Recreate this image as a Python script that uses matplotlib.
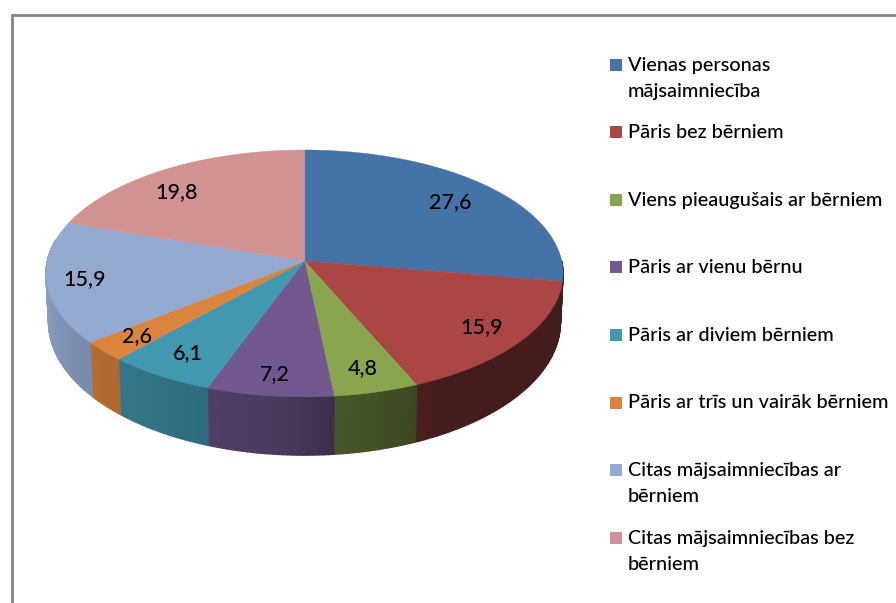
import numpy as np
import matplotlib
matplotlib.use("Agg")
import matplotlib.pyplot as plt
from matplotlib.collections import PolyCollection
from matplotlib.patches import Rectangle

# ---- data -----------------------------------------------------------
categories = [
    "Vienas personas\nmājsaimniecība",
    "Pāris bez bērniem",
    "Viens pieaugušais ar bērniem",
    "Pāris ar vienu bērnu",
    "Pāris ar diviem bērniem",
    "Pāris ar trīs un vairāk bērniem",
    "Citas mājsaimniecības ar\nbērniem",
    "Citas mājsaimniecības bez\nbērniem",
]
values = [27.6, 15.9, 4.8, 7.2, 6.1, 2.6, 15.9, 19.8]
value_labels = ["27,6", "15,9", "4,8", "7,2", "6,1", "2,6", "15,9", "19,8"]

# ---- style ----------------------------------------------------------
colors = ["#4572A7", "#AA4643", "#89A54E", "#71588F",
          "#4198AF", "#DB843D", "#93A9CF", "#D19392"]
label_radius = [0.78, 0.83, 0.83, 0.85, 0.82, 0.845, 0.855, 0.795]
label_turn_deg = [0, 0, 0, 0, 0, 0, 0, -6]
FONT = "Lato"
LEGEND_SIZE = 14.3
LABEL_SIZE = 15.5

# perspective of the pie disc, in pixels
CX, CY = 304.5, 261.0
A, B, S = 257.2, 122.2, 0.101
A_BOTTOM, B_BOTTOM, DEPTH = 0.99 * A, 1.078 * B, 47.6


def top(theta, r=1.0):
    u, v = r * np.sin(theta), r * np.cos(theta)
    d = 1 + S * v
    return CX + A * u / d, CY - B * v / d


def bottom(theta):
    u, v = np.sin(theta), np.cos(theta)
    d = 1 + S * v
    return CX + A_BOTTOM * u / d, CY + DEPTH - B_BOTTOM * v / d


fig = plt.figure(figsize=(8.96, 6.03), dpi=100, facecolor="white")
ax = fig.add_axes([0, 0, 1, 1])
ax.set_xlim(0, 896)
ax.set_ylim(603, 0)
ax.axis("off")

# chart frame (cropped: only the left and top edges are visible)
ax.plot([11.5, 11.5, 896], [603, 15, 15], color="#868686", lw=2.0,
        solid_joinstyle="miter", solid_capstyle="butt")

total = sum(values)
edges = np.concatenate([[0], np.cumsum(values)]) / total * 2 * np.pi

# side wall, shaded by angle: darkest at the front right
shade_angle = np.radians([95, 150, 160, 175, 185, 215, 225, 240, 262, 280])
shade_value = [0.40, 0.40, 0.46, 0.53, 0.66, 0.76, 0.80, 0.85, 0.92, 0.92]
for start, end, col in zip(edges[:-1], edges[1:], colors):
    lo, hi = max(start, np.radians(90)), min(end, np.radians(280))
    if hi <= lo:
        continue
    n = max(2, int(np.degrees(hi - lo)))
    th = np.linspace(lo, hi, n + 1)
    polys, facecols = [], []
    rgb = np.array(matplotlib.colors.to_rgb(col))
    for t0, t1 in zip(th[:-1], th[1:]):
        x0, y0 = top(t0)
        x1, y1 = top(t1)
        x2, y2 = bottom(t1)
        x3, y3 = bottom(t0)
        polys.append([(x0, y0), (x1, y1), (x2, y2), (x3, y3)])
        facecols.append(rgb * np.interp((t0 + t1) / 2, shade_angle, shade_value))
    ax.add_collection(PolyCollection(polys, facecolors=facecols,
                                     edgecolors=facecols, linewidths=1.0))

# top face
for start, end, col in zip(edges[:-1], edges[1:], colors):
    th = np.linspace(start, end, 200)
    xs, ys = top(th)
    ax.fill(np.r_[CX, xs], np.r_[CY, ys], facecolor=col, edgecolor=col, lw=0.3)

# value labels
for start, end, txt, r, turn in zip(edges[:-1], edges[1:], value_labels,
                                    label_radius, label_turn_deg):
    x, y = top((start + end) / 2 + np.radians(turn), r)
    ax.text(x, y, txt, ha="center", va="center", fontsize=LABEL_SIZE,
            family=FONT, weight="medium", color="black")

# legend
for i, (name, col) in enumerate(zip(categories, colors)):
    y = 64.5 + 67.6 * i
    ax.add_patch(Rectangle((610, y - 6), 12, 12, facecolor=col, edgecolor="none"))
    for j, line in enumerate(name.split("\n")):
        ax.text(628, y + 6 + 26 * j, line, ha="left", va="baseline",
                fontsize=LEGEND_SIZE, family=FONT, weight="medium", color="black")

fig.savefig("out.png", dpi=100, facecolor="white")
